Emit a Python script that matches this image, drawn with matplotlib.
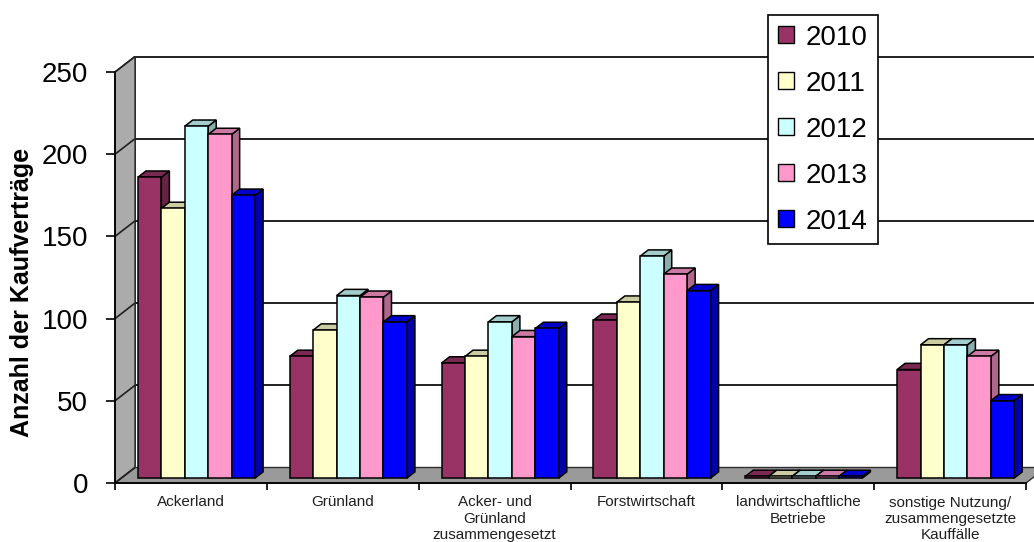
import matplotlib
matplotlib.use("Agg")
import matplotlib.pyplot as plt
from matplotlib.patches import Polygon, Patch
from matplotlib.colors import to_rgb

plt.rcParams['font.family'] = ['Liberation Sans', 'DejaVu Sans']

# --- data -----------------------------------------------------------------
categories = [
    "Ackerland",
    "Grünland",
    "Acker- und\nGrünland\nzusammengesetzt",
    "Forstwirtschaft",
    "landwirtschaftliche\nBetriebe",
    "sonstige Nutzung/\nzusammengesetzte\nKauffälle",
]
years = ["2010", "2011", "2012", "2013", "2014"]
v2010 = [183, 74, 70, 96, 1, 66]
v2011 = [164, 90, 74, 107, 1, 81]
v2012 = [214, 111, 95, 135, 1, 81]
v2013 = [209, 110, 86, 124, 1, 74]
v2014 = [172, 95, 91, 114, 1, 47]
series = [v2010, v2011, v2012, v2013, v2014]
colors = ["#993366", "#FFFFCC", "#CCFFFF", "#FF99CC", "#0000FF"]
yticks = [0, 50, 100, 150, 200, 250]

# --- figure / axes (front plane of the 3-D box) ----------------------------
W, H = 1034, 542
fig = plt.figure(figsize=(W / 100, H / 100), dpi=100)
x_left, x_right, y_bottom, y_top = 115, 1026, 483, 72
ax = fig.add_axes([x_left / W, (H - y_bottom) / H,
                   (x_right - x_left) / W, (y_bottom - y_top) / H])
ncat = len(categories)
ymax = 250
ax.set_xlim(0, ncat)
ax.set_ylim(0, ymax)
ax.patch.set_visible(False)

# depth vector of the box (front -> back), converted from pixels to data units
DX = 20 * ncat / (x_right - x_left)
DY = 15.5 * ymax / (y_bottom - y_top)


def p(x, y, d):
    return (x + d * DX, y + d * DY)


def poly(pts, fc, ec="black", lw=1.0, z=1):
    ax.add_patch(Polygon(pts, closed=True, facecolor=fc, edgecolor=ec,
                         linewidth=lw, zorder=z, clip_on=False,
                         joinstyle="miter"))


def line(a, b, lw=1.3, z=1, c="black"):
    ax.plot([a[0], b[0]], [a[1], b[1]], color=c, lw=lw, zorder=z,
            clip_on=False, solid_capstyle="butt")


# back wall gridlines
for v in yticks:
    line(p(0, v, 1), p(ncat + 0.2, v, 1), lw=1.4, z=1, c="#202020")
line(p(0, 0, 1), p(0, ymax, 1), lw=1.2, z=1)

# left wall
poly([p(0, 0, 0), p(0, 0, 1), p(0, ymax, 1), p(0, ymax, 0)],
     fc="#ababab", ec="#303030", lw=1.0, z=2)
for v in yticks:
    line(p(0, v, 0), p(0, v, 1), lw=1.2, z=2.1, c="#202020")

# floor
poly([p(0, 0, 0), p(ncat, 0, 0), p(ncat, 0, 1), p(0, 0, 1)],
     fc="#9a9a9a", ec="#303030", lw=1.0, z=2)

# bars
group_start = 0.109
bar_w = 0.1543
d_front, d_back = 0.32, 0.72


def shade(c, f):
    r, g, b = to_rgb(c)
    return (r * f, g * f, b * f)


z = 3
for i in range(ncat):
    for j, vals in enumerate(series):
        v = vals[i]
        x0 = i + group_start + j * bar_w
        x1 = x0 + bar_w
        c = colors[j]
        poly([p(x1, 0, d_front), p(x1, 0, d_back), p(x1, v, d_back),
              p(x1, v, d_front)], fc=shade(c, 0.68), lw=1.1, z=z)
        poly([p(x0, v, d_front), p(x1, v, d_front), p(x1, v, d_back),
              p(x0, v, d_back)], fc=shade(c, 0.8), lw=1.1, z=z + 0.01)
        poly([p(x0, 0, d_front), p(x1, 0, d_front), p(x1, v, d_front),
              p(x0, v, d_front)], fc=c, lw=1.1, z=z + 0.02)
        z += 0.1

# axes styling
for s in ["top", "right"]:
    ax.spines[s].set_visible(False)
for s in ["left", "bottom"]:
    ax.spines[s].set_linewidth(1.3)
    ax.spines[s].set_zorder(10)

ax.set_yticks(yticks)
ax.set_yticklabels([str(t) for t in yticks], fontsize=20)
ax.tick_params(axis="y", direction="out", length=6.5, width=1.2, pad=13)

ax.set_xticks(range(ncat + 1))
ax.set_xticklabels([])
ax.tick_params(axis="x", which="major", direction="out", length=5, width=1.2)
ax.set_xticks([i + 0.5 for i in range(ncat)], minor=True)
ax.set_xticklabels(categories, minor=True, fontsize=11, color="#202020")
ax.tick_params(axis="x", which="minor", length=0, pad=9)

fig.text(22 / W, 1 - 292 / H, "Anzahl der Kaufverträge", rotation=90,
         ha="center", va="center", fontsize=18, fontweight="bold")

handles = [Patch(facecolor=c, edgecolor="black", linewidth=1.0) for c in colors]
leg = fig.legend(handles, years, loc="upper left",
                 bbox_to_anchor=(768 / W, 1 - 15 / H), borderaxespad=0,
                 fontsize=20, frameon=True, fancybox=False, shadow=False,
                 handlelength=0.57, handleheight=0.57, handletextpad=0.45,
                 labelspacing=0.72, borderpad=0.35)
leg.get_frame().set_edgecolor("black")
leg.get_frame().set_linewidth(1.2)
leg.get_frame().set_alpha(1)

fig.savefig("out.png", dpi=100)
